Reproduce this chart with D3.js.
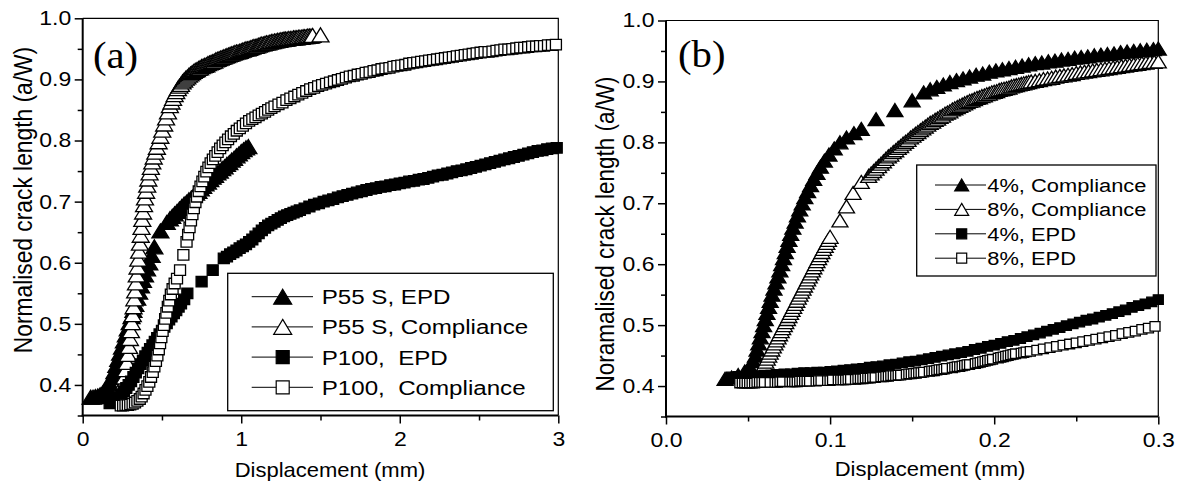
<!doctype html>
<html>
<head>
<meta charset="UTF-8">
<title>crack length vs displacement</title>
<script src="https://d3js.org/d3.v7.min.js"></script>
<style>
  body { margin: 0; background: #fff; }
  svg { display: block; font-family: "Liberation Sans", Arial, sans-serif; }
</style>
</head>
<body>
<svg width="1179" height="487"></svg>
<script>
// ---------- data ----------
var namesA = ["P55 S, EPD", "P55 S, Compliance", "P100,  EPD", "P100,  Compliance"];
var namesB = ["4%, Compliance", "8%, Compliance", "4%, EPD", "8%, EPD"];

var yTicks = [0.4, 0.5, 0.6, 0.7, 0.8, 0.9, 1.0];
var yMinor = [0.35, 0.45, 0.55, 0.65, 0.75, 0.85, 0.95];
var xTicksA = [0, 1, 2, 3];
var xMinorA = [0.5, 1.5, 2.5];
var xTicksB = [0, 0.1, 0.2, 0.3];
var xMinorB = [0.05, 0.15, 0.25];

// panel (a)
var p55sEpd = [[0.05,0.380],[0.065,0.380],[0.08,0.381],[0.095,0.382],[0.11,0.384],[0.125,0.387],[0.14,0.391],[0.155,0.396],[0.17,0.403],[0.185,0.412],[0.2,0.422],[0.212,0.432],[0.224,0.442],[0.236,0.452],[0.248,0.462],[0.26,0.472],[0.272,0.482],[0.284,0.492],[0.296,0.502],[0.308,0.512],[0.32,0.522],[0.332,0.532],[0.344,0.542],[0.356,0.552],[0.368,0.562],[0.38,0.571],[0.393,0.58],[0.406,0.59],[0.42,0.6],[0.435,0.612],[0.452,0.626],[0.49,0.652],[0.53,0.666],[0.55,0.672],[0.565,0.676],[0.58,0.68],[0.595,0.684],[0.61,0.688],[0.625,0.692],[0.64,0.696],[0.655,0.699],[0.67,0.703],[0.685,0.706],[0.7,0.71],[0.715,0.714],[0.73,0.717],[0.745,0.721],[0.76,0.725],[0.775,0.729],[0.79,0.732],[0.805,0.736],[0.82,0.74],[0.835,0.743],[0.85,0.747],[0.865,0.75],[0.88,0.754],[0.895,0.757],[0.91,0.761],[0.925,0.764],[0.94,0.768],[0.955,0.771],[0.97,0.775],[0.985,0.778],[1.0,0.782],[1.015,0.785],[1.03,0.788],[1.045,0.79]];

var p55sComp = [[0.22,0.375],[0.232,0.383],[0.244,0.392],[0.255,0.402],[0.264,0.413],[0.272,0.425],[0.279,0.437],[0.286,0.45],[0.292,0.463],[0.298,0.476],[0.304,0.489],[0.31,0.502],[0.316,0.515],[0.321,0.528],[0.326,0.541],[0.331,0.554],[0.336,0.567],[0.341,0.58],[0.346,0.593],[0.351,0.606],[0.356,0.619],[0.361,0.632],[0.366,0.645],[0.371,0.658],[0.376,0.671],[0.381,0.683],[0.387,0.695],[0.393,0.706],[0.4,0.717],[0.407,0.727],[0.414,0.737],[0.422,0.747],[0.43,0.756],[0.439,0.765],[0.448,0.773],[0.458,0.781],[0.468,0.789],[0.479,0.798],[0.49,0.807],[0.502,0.817],[0.514,0.827],[0.526,0.837],[0.538,0.847],
  [0.55,0.857],[0.56,0.863],[0.57,0.869],[0.58,0.875],[0.59,0.88],[0.6,0.885],[0.61,0.889],[0.62,0.892],[0.63,0.896],[0.64,0.899],[0.65,0.902],[0.66,0.904],[0.67,0.907],[0.68,0.909],[0.69,0.911],[0.7,0.913],[0.71,0.915],[0.72,0.916],[0.73,0.918],[0.74,0.919],[0.75,0.921],[0.76,0.922],[0.77,0.923],[0.78,0.924],[0.79,0.926],[0.8,0.927],[0.81,0.928],[0.82,0.929],[0.83,0.93],[0.84,0.932],[0.85,0.933],[0.86,0.934],[0.87,0.935],[0.88,0.936],[0.89,0.937],[0.9,0.938],[0.91,0.939],[0.92,0.94],[0.93,0.941],[0.94,0.942],[0.95,0.943],[0.96,0.944],[0.97,0.945],[0.98,0.945],[0.99,0.946],[1.0,0.947],[1.01,0.948],[1.02,0.949],[1.03,0.95],[1.04,0.95],[1.05,0.951],[1.06,0.952],[1.07,0.953],[1.08,0.954],[1.09,0.954],[1.1,0.955],[1.11,0.956],[1.12,0.957],[1.13,0.958],[1.14,0.958],[1.15,0.959],[1.16,0.96],[1.17,0.96],[1.18,0.961],[1.19,0.962],[1.2,0.962],[1.21,0.963],[1.22,0.963],[1.23,0.964],[1.24,0.964],[1.25,0.965],[1.26,0.965],[1.27,0.966],[1.28,0.966],[1.29,0.966],[1.3,0.967],[1.31,0.967],[1.32,0.967],[1.33,0.968],[1.34,0.968],[1.35,0.968],[1.36,0.969],[1.37,0.969],[1.38,0.969],[1.39,0.97],[1.4,0.97],[1.41,0.97],[1.42,0.971],[1.43,0.971],[1.44,0.971],[1.45,0.972],[1.5,0.973]];

var p100Epd = [[0.17,0.37],[0.185,0.371],[0.2,0.373],[0.215,0.376],[0.23,0.38],[0.245,0.385],[0.26,0.39],[0.275,0.395],[0.29,0.4],[0.305,0.406],[0.32,0.413],[0.335,0.42],[0.35,0.427],[0.365,0.434],[0.38,0.44],[0.395,0.447],[0.41,0.453],[0.425,0.459],[0.44,0.465],[0.455,0.471],[0.47,0.477],[0.485,0.483],[0.5,0.489],[0.515,0.495],[0.53,0.501],[0.545,0.507],[0.56,0.512],[0.575,0.517],[0.59,0.522],[0.605,0.528],[0.62,0.533],[0.64,0.54],[0.66,0.55],[0.75,0.569],[0.82,0.588],[0.89,0.607],[0.91,0.61],[0.93,0.614],[0.95,0.617],[0.97,0.62],[0.99,0.624],[1.01,0.627],[1.03,0.63],[1.05,0.634],[1.07,0.638],[1.09,0.643],[1.11,0.648],[1.13,0.653],[1.15,0.657],[1.17,0.661],[1.19,0.664],[1.21,0.667],[1.23,0.67],[1.25,0.673],[1.27,0.676],[1.29,0.678],[1.31,0.68],[1.33,0.682],[1.35,0.684],[1.37,0.686],[1.4,0.689],[1.43,0.692],[1.46,0.695],[1.49,0.697],[1.52,0.7],[1.55,0.702],[1.58,0.704],[1.61,0.707],[1.64,0.709],[1.67,0.711],[1.7,0.713],[1.73,0.715],[1.76,0.717],[1.79,0.719],[1.82,0.721],[1.85,0.722],[1.88,0.724],[1.91,0.725],[1.94,0.727],[1.97,0.728],[2.0,0.73],[2.03,0.731],[2.06,0.733],[2.09,0.734],[2.12,0.736],[2.15,0.737],[2.18,0.739],[2.21,0.741],[2.24,0.743],[2.27,0.744],[2.3,0.746],[2.33,0.748],[2.36,0.75],[2.39,0.751],[2.42,0.753],[2.45,0.755],[2.48,0.757],[2.51,0.759],[2.54,0.761],[2.57,0.763],[2.6,0.765],[2.63,0.767],[2.66,0.769],[2.69,0.771],[2.72,0.773],[2.75,0.775],[2.78,0.777],[2.81,0.779],[2.84,0.781],[2.87,0.783],[2.9,0.784],[2.93,0.786],[2.96,0.787],[2.99,0.788]];

var p100Comp = [[0.24,0.366],[0.255,0.366],[0.27,0.367],[0.285,0.367],[0.3,0.368],[0.315,0.369],[0.33,0.371],[0.345,0.374],[0.36,0.377],[0.372,0.381],[0.384,0.386],[0.396,0.392],[0.408,0.398],[0.42,0.405],[0.431,0.413],[0.442,0.421],[0.452,0.43],[0.462,0.439],[0.471,0.448],[0.48,0.458],[0.488,0.468],[0.496,0.478],[0.504,0.488],[0.512,0.498],[0.52,0.508],[0.528,0.518],[0.537,0.528],[0.546,0.538],[0.556,0.548],[0.567,0.557],[0.58,0.566],[0.595,0.574],[0.614,0.588],[0.635,0.613],[0.655,0.634],[0.665,0.646],[0.674,0.658],[0.683,0.669],[0.692,0.679],[0.701,0.689],[0.711,0.699],[0.721,0.708],[0.732,0.717],[0.743,0.725],[0.755,0.733],[0.767,0.741],[0.78,0.749],[0.793,0.756],[0.807,0.763],[0.821,0.769],[0.836,0.775],[0.851,0.781],[0.867,0.787],[0.883,0.792],[0.9,0.797],[0.917,0.802],[0.935,0.807],[0.953,0.811],[0.972,0.816],[0.991,0.82],[1.01,0.824],[1.03,0.828],[1.05,0.832],[1.07,0.835],[1.09,0.838],[1.11,0.841],[1.13,0.844],[1.15,0.847],[1.17,0.85],[1.19,0.853],[1.21,0.856],[1.235,0.859],[1.26,0.862],[1.285,0.866],[1.31,0.869],[1.335,0.872],[1.36,0.875],[1.385,0.878],[1.41,0.881],[1.435,0.884],[1.46,0.886],[1.485,0.889],[1.51,0.891],[1.535,0.893],[1.56,0.895],[1.585,0.897],[1.61,0.899],[1.635,0.901],[1.66,0.903],[1.685,0.905],[1.71,0.906],[1.735,0.908],[1.76,0.909],[1.785,0.911],[1.81,0.912],[1.835,0.914],[1.86,0.915],[1.885,0.917],[1.91,0.918],[1.935,0.919],[1.96,0.921],[1.985,0.922],[2.01,0.923],[2.035,0.924],[2.06,0.926],[2.085,0.927],[2.11,0.928],[2.135,0.929],[2.16,0.93],[2.185,0.931],[2.21,0.932],[2.235,0.933],[2.26,0.934],[2.285,0.935],[2.31,0.936],[2.335,0.937],[2.36,0.938],[2.385,0.939],[2.41,0.94],[2.435,0.941],[2.46,0.942],[2.485,0.943],[2.51,0.944],[2.535,0.945],[2.56,0.945],[2.585,0.946],[2.61,0.947],[2.635,0.948],[2.66,0.949],[2.685,0.949],[2.71,0.95],[2.735,0.951],[2.76,0.952],[2.785,0.952],[2.81,0.953],[2.835,0.954],[2.86,0.954],[2.885,0.955],[2.91,0.955],[2.935,0.956],[2.96,0.956],[2.985,0.957]];

// panel (b)
var comp4 = [[0.036,0.412],[0.04,0.414],[0.044,0.418],[0.048,0.424],[0.051,0.432],[0.053,0.441],[0.0545,0.45],[0.0555,0.46],[0.0565,0.47],[0.0575,0.48],[0.0585,0.49],[0.0595,0.5],[0.0605,0.51],[0.0615,0.52],[0.0625,0.53],[0.0635,0.54],[0.0646,0.55],[0.0658,0.56],[0.067,0.57],[0.0682,0.58],[0.0694,0.59],[0.0705,0.6],[0.0716,0.61],[0.0727,0.62],[0.0738,0.63],[0.0749,0.64],[0.076,0.65],[0.0773,0.66],[0.0787,0.67],[0.0801,0.68],[0.0815,0.69],[0.083,0.7],[0.0846,0.71],[0.0863,0.72],[0.0881,0.73],[0.09,0.74],[0.092,0.75],[0.0941,0.76],[0.0965,0.77],[0.0993,0.78],[0.1025,0.79],[0.106,0.8],[0.11,0.808],[0.1145,0.815],[0.119,0.822],[0.128,0.838],[0.1395,0.853],[0.15,0.869],[0.157,0.882],[0.161,0.887],[0.165,0.891],[0.169,0.895],[0.173,0.899],[0.177,0.902],[0.181,0.905],[0.185,0.908],[0.189,0.911],[0.193,0.913],[0.197,0.916],[0.201,0.918],[0.205,0.92],[0.209,0.922],[0.213,0.924],[0.217,0.926],[0.221,0.928],[0.225,0.93],[0.229,0.931],[0.233,0.933],[0.237,0.934],[0.241,0.936],[0.245,0.937],[0.249,0.939],[0.253,0.94],[0.257,0.941],[0.261,0.943],[0.265,0.944],[0.269,0.945],[0.273,0.946],[0.277,0.948],[0.281,0.949],[0.285,0.95],[0.289,0.951],[0.293,0.952],[0.297,0.953],[0.3,0.954]];

var comp8 = [[0.057,0.42],[0.058,0.425],[0.059,0.43],[0.0599,0.435],[0.0608,0.44],[0.0617,0.445],[0.0626,0.45],[0.0635,0.455],[0.0645,0.46],[0.0654,0.465],[0.0664,0.47],[0.0673,0.475],[0.0683,0.48],[0.0692,0.485],[0.0702,0.49],[0.0711,0.495],[0.0721,0.5],[0.073,0.505],[0.074,0.51],[0.0749,0.515],[0.0759,0.52],[0.0768,0.525],[0.0778,0.53],[0.0787,0.535],[0.0797,0.54],[0.0806,0.545],[0.0816,0.55],[0.0825,0.555],[0.0835,0.56],[0.0844,0.565],[0.0854,0.57],[0.0863,0.575],[0.0873,0.58],[0.0882,0.585],[0.0892,0.59],[0.0901,0.595],[0.0911,0.6],[0.092,0.605],[0.093,0.61],[0.094,0.615],[0.095,0.62],[0.096,0.625],[0.097,0.63],[0.098,0.635],[0.099,0.64],[0.1,0.645],
  [0.106,0.672],[0.11,0.695],[0.114,0.717],[0.119,0.735],
  [0.1235,0.745],[0.125,0.749],[0.1265,0.753],[0.128,0.757],[0.1295,0.761],[0.131,0.765],[0.1325,0.769],[0.134,0.773],[0.1355,0.777],[0.137,0.78],[0.1385,0.784],[0.14,0.787],[0.1415,0.791],[0.143,0.794],[0.1445,0.798],[0.146,0.801],[0.1475,0.804],[0.149,0.808],[0.1505,0.811],[0.152,0.814],[0.1535,0.817],[0.155,0.82],[0.1565,0.823],[0.158,0.826],[0.1595,0.829],[0.161,0.832],[0.1625,0.834],[0.164,0.837],[0.1655,0.839],[0.167,0.842],[0.1685,0.844],[0.17,0.847],[0.1715,0.849],[0.173,0.851],[0.1745,0.854],[0.176,0.856],[0.1775,0.858],[0.179,0.86],[0.1805,0.862],[0.182,0.864],[0.1835,0.866],[0.185,0.868],[0.1865,0.869],[0.188,0.871],[0.1895,0.873],[0.191,0.874],[0.1925,0.876],[0.194,0.877],[0.1955,0.879],[0.197,0.88],[0.1985,0.882],[0.2,0.883],[0.2015,0.884],[0.203,0.886],[0.2045,0.887],[0.206,0.888],[0.2075,0.889],[0.209,0.89],[0.2105,0.892],[0.212,0.893],[0.2135,0.894],[0.215,0.895],[0.2165,0.896],[0.218,0.897],[0.2195,0.898],[0.221,0.899],[0.2225,0.9],
  [0.225,0.901],[0.2275,0.902],[0.23,0.904],[0.2325,0.905],[0.235,0.906],[0.2375,0.908],[0.24,0.909],[0.2425,0.91],[0.245,0.911],[0.2475,0.912],[0.25,0.914],[0.2525,0.915],[0.255,0.916],[0.2575,0.917],[0.26,0.918],[0.2625,0.919],[0.265,0.92],[0.2675,0.921],[0.27,0.922],[0.2725,0.923],[0.275,0.924],[0.2775,0.925],[0.28,0.926],[0.2825,0.927],[0.285,0.928],[0.2875,0.929],[0.29,0.93],[0.2925,0.931],[0.295,0.932],[0.2975,0.932],[0.3,0.933]];

var epd4 = [[0.04,0.415],[0.044,0.416],[0.048,0.416],[0.052,0.417],[0.056,0.417],[0.06,0.418],[0.064,0.418],[0.068,0.419],[0.072,0.42],[0.076,0.42],[0.08,0.421],[0.084,0.422],[0.088,0.422],[0.092,0.423],[0.096,0.423],[0.1,0.424],[0.104,0.425],[0.108,0.426],[0.112,0.427],[0.116,0.428],[0.12,0.429],[0.124,0.431],[0.128,0.432],[0.132,0.433],[0.136,0.435],[0.14,0.436],[0.144,0.438],[0.148,0.44],[0.152,0.441],[0.156,0.443],[0.16,0.445],[0.164,0.447],[0.168,0.449],[0.172,0.451],[0.176,0.453],[0.18,0.455],[0.184,0.457],[0.188,0.46],[0.192,0.462],[0.196,0.465],[0.2,0.467],[0.204,0.47],[0.208,0.473],[0.212,0.475],[0.216,0.478],[0.22,0.481],[0.224,0.484],[0.228,0.487],[0.232,0.49],[0.236,0.493],[0.24,0.496],[0.244,0.499],[0.248,0.502],[0.252,0.505],[0.256,0.508],[0.26,0.51],[0.264,0.513],[0.268,0.516],[0.272,0.519],[0.276,0.522],[0.28,0.525],[0.284,0.529],[0.288,0.532],[0.292,0.535],[0.296,0.538],[0.3,0.542]];

var epd8 = [[0.045,0.405],[0.0465,0.405],[0.048,0.405],[0.0495,0.405],[0.051,0.405],[0.0525,0.405],[0.054,0.405],[0.0555,0.406],[0.057,0.406],[0.0585,0.406],[0.06,0.406],[0.0635,0.406],[0.0665,0.406],[0.068,0.406],[0.0695,0.407],[0.071,0.407],[0.0755,0.407],[0.077,0.407],[0.0785,0.407],[0.08,0.407],[0.0815,0.408],[0.083,0.408],[0.0845,0.408],[0.086,0.408],[0.0875,0.408],[0.0915,0.408],[0.093,0.409],[0.0945,0.409],[0.0985,0.409],[0.1,0.409],[0.1015,0.41],[0.105,0.41],[0.1065,0.41],[0.108,0.41],[0.1095,0.41],[0.111,0.411],[0.1125,0.411],[0.1155,0.411],[0.117,0.412],[0.1185,0.412],[0.12,0.412],[0.1215,0.413],[0.123,0.413],[0.1245,0.413],[0.126,0.414],[0.1275,0.414],[0.131,0.415],[0.1325,0.415],[0.134,0.416],[0.1355,0.416],[0.137,0.417],[0.1385,0.417],[0.14,0.417],[0.1415,0.418],[0.143,0.418],[0.1465,0.419],[0.148,0.42],[0.1495,0.42],[0.151,0.421],[0.1525,0.421],[0.154,0.422],[0.1555,0.422],[0.157,0.423],[0.1605,0.424],[0.162,0.425],[0.1635,0.425],[0.165,0.426],[0.1665,0.427],[0.168,0.427],[0.1695,0.428],[0.171,0.429],[0.1745,0.43],[0.176,0.431],[0.1775,0.432],[0.179,0.432],[0.1805,0.433],[0.182,0.434],[0.1835,0.435],[0.185,0.435],[0.1885,0.437],[0.19,0.438],[0.1915,0.439],[0.193,0.44],[0.1945,0.441],[0.196,0.442],[0.1975,0.443],[0.199,0.444],[0.2025,0.446],[0.204,0.447],[0.2055,0.448],[0.207,0.449],[0.2085,0.45],[0.21,0.451],[0.2115,0.452],[0.213,0.453],[0.2165,0.454],[0.218,0.455],[0.2195,0.456],[0.222,0.457],[0.226,0.459],[0.23,0.461],[0.234,0.463],[0.238,0.465],[0.242,0.467],[0.246,0.469],[0.25,0.471],[0.254,0.473],[0.258,0.475],[0.262,0.477],[0.266,0.479],[0.27,0.481],[0.274,0.483],[0.278,0.486],[0.282,0.488],[0.286,0.49],[0.29,0.493],[0.294,0.495],[0.298,0.498]];

// ---------- drawing ----------
var svg = d3.select("svg");
var SX = 1.15;          // the picture is a little wider than tall, text too
var blk = "#000";
var sans = "'Liberation Sans', Arial, sans-serif";

function marker(type, w, h){
  if(type == "tri"){
    return "M0," + (-h/2) + "L" + (w/2) + "," + (h/2) + "L" + (-w/2) + "," + (h/2) + "Z";
  }
  return "M" + (-w/2) + "," + (-h/2) + "h" + w + "v" + h + "h" + (-w) + "Z";
}

function stretched(g, x, y, txt, size, anchor, sx){
  return g.append("text")
    .attr("transform", "translate(" + x + "," + y + ") scale(" + (sx || SX) + ",1)")
    .attr("font-family", sans)
    .attr("font-size", size)
    .attr("text-anchor", anchor || "start")
    .style("white-space", "pre")
    .text(txt);
}

function panel(cfg){
  var g = svg.append("g");
  var x = d3.scaleLinear().domain(cfg.xDomain).range(cfg.xRange);
  var y = d3.scaleLinear().domain([0.35, 1.0]).range(cfg.yRange);
  var x0 = cfg.xRange[0], x1 = cfg.xRange[1], yb = cfg.yRange[0], yt = cfg.yRange[1];

  // frame top / right
  g.append("path").attr("d", "M" + x0 + "," + yt + "H" + x1 + "V" + yb)
    .attr("fill", "none").attr("stroke", blk).attr("stroke-width", 1.2);

  // series, in legend order (later ones on top)
  cfg.series.forEach(function(s){
    var sz = s.type == "tri" ? cfg.tri : cfg.sq;
    g.append("g").selectAll("path").data(s.data).enter().append("path")
      .attr("transform", function(d){ return "translate(" + x(d[0]) + "," + y(d[1]) + ")"; })
      .attr("d", marker(s.type, sz[0], sz[1]))
      .attr("fill", s.fill).attr("stroke", blk).attr("stroke-width", 1.3);
  });

  // axes
  var gxm = g.append("g").attr("transform", "translate(0," + yb + ")")
    .call(d3.axisBottom(x).tickValues(cfg.xMinor).tickSize(5).tickFormat(""));
  var gym = g.append("g").attr("transform", "translate(" + x0 + ",0)")
    .call(d3.axisLeft(y).tickValues(yMinor).tickSize(5).tickFormat(""));
  gxm.select(".domain").remove(); gym.select(".domain").remove();

  var gx = g.append("g").attr("transform", "translate(0," + yb + ")")
    .call(d3.axisBottom(x).tickValues(cfg.xTicks).tickSize(8).tickSizeOuter(0).tickPadding(8).tickFormat(cfg.xFormat));
  var gy = g.append("g").attr("transform", "translate(" + x0 + ",0)")
    .call(d3.axisLeft(y).tickValues(yTicks).tickSize(8).tickSizeOuter(0).tickPadding(2).tickFormat(d3.format(".1f")));

  [gx, gy, gxm, gym].forEach(function(a){
    a.attr("font-family", sans).attr("font-size", 20);
    a.selectAll("line").attr("stroke", blk).attr("stroke-width", 1.5);
    a.selectAll("text").attr("fill", blk).attr("transform", "scale(" + SX + ",1)");
  });
  gx.select(".domain").attr("stroke-width", 2).attr("d", "M" + (x0 - 1) + ",0H" + x1);
  gy.select(".domain").attr("stroke-width", 2).attr("d", "M0," + (yb + 1) + "V" + yt);

  // axis titles
  stretched(g, cfg.xTitle[0], cfg.xTitle[1], "Displacement (mm)", 20, "middle", 1.1);
  g.append("text")
    .attr("transform", "translate(" + cfg.yTitle[0] + "," + cfg.yTitle[1] + ") scale(" + SX + ",1) rotate(-90)")
    .attr("font-family", sans)
    .attr("font-size", cfg.yTitle[2]).attr("text-anchor", "middle")
    .text(cfg.yTitle[3]);

  // panel letter
  g.append("text")
    .attr("transform", "translate(" + cfg.tag[0] + "," + cfg.tag[1] + ") scale(1.1,1)")
    .attr("font-family", "'Liberation Serif', 'Times New Roman', serif")
    .attr("font-size", 37).text(cfg.tag[2]);

  // legend
  var L = cfg.legend;
  g.append("rect").attr("x", L.box[0]).attr("y", L.box[1])
    .attr("width", L.box[2] - L.box[0]).attr("height", L.box[3] - L.box[1])
    .attr("fill", "#fff").attr("stroke", blk).attr("stroke-width", 1.3);
  cfg.series.forEach(function(s, i){
    var ry = L.row0 + i * L.step;
    var sz = s.type == "tri" ? L.tri : L.sq;
    g.append("line").attr("x1", L.line[0]).attr("x2", L.line[1]).attr("y1", ry).attr("y2", ry)
      .attr("stroke", blk).attr("stroke-width", 1);
    g.append("path").attr("transform", "translate(" + L.mark + "," + ry + ")")
      .attr("d", marker(s.type, sz[0], sz[1]))
      .attr("fill", s.fill).attr("stroke", blk).attr("stroke-width", 1.2);
    stretched(g, L.text, ry + L.size * 0.36, s.name, L.size, "start");
  });
}

panel({
  xDomain: [0, 3], xRange: [82.7, 558.3], yRange: [415.5, 18.3],
  xTicks: xTicksA, xMinor: xMinorA, xFormat: d3.format("d"),
  tri: [17, 14], sq: [11, 10.5],
  xTitle: [330, 477], yTitle: [32, 200, 22.8, "Normalised crack length (a/W)"],
  tag: [93, 68, "(a)"],
  series: [
    {name: namesA[0], data: p55sEpd, type: "tri", fill: "#000"},
    {name: namesA[1], data: p55sComp, type: "tri", fill: "#fff"},
    {name: namesA[2], data: p100Epd, type: "sq", fill: "#000"},
    {name: namesA[3], data: p100Comp, type: "sq", fill: "#fff"}
  ],
  legend: {box: [227.7, 273.3, 553.3, 410.7], row0: 296.7, step: 30.2, line: [251.7, 313],
           mark: 282.7, text: 321.7, size: 21, tri: [18, 15], sq: [13, 13]}
});

panel({
  xDomain: [0, 0.3], xRange: [666, 1158.3], yRange: [416.5, 20.5],
  xTicks: xTicksB, xMinor: xMinorB, xFormat: d3.format(".1f"),
  tri: [16, 13], sq: [10, 9.5],
  xTitle: [930, 476], yTitle: [614, 234, 22.5, "Noramalised crack length (a/W)"],
  tag: [678, 67, "(b)"],
  series: [
    {name: namesB[0], data: comp4, type: "tri", fill: "#000"},
    {name: namesB[1], data: comp8, type: "tri", fill: "#fff"},
    {name: namesB[2], data: epd4, type: "sq", fill: "#000"},
    {name: namesB[3], data: epd8, type: "sq", fill: "#fff"}
  ],
  legend: {box: [916.7, 165, 1156, 276], row0: 185, step: 24.4, line: [935, 986],
           mark: 961.7, text: 987.3, size: 19, tri: [14, 12], sq: [10, 10]}
});
</script>
</body>
</html>
